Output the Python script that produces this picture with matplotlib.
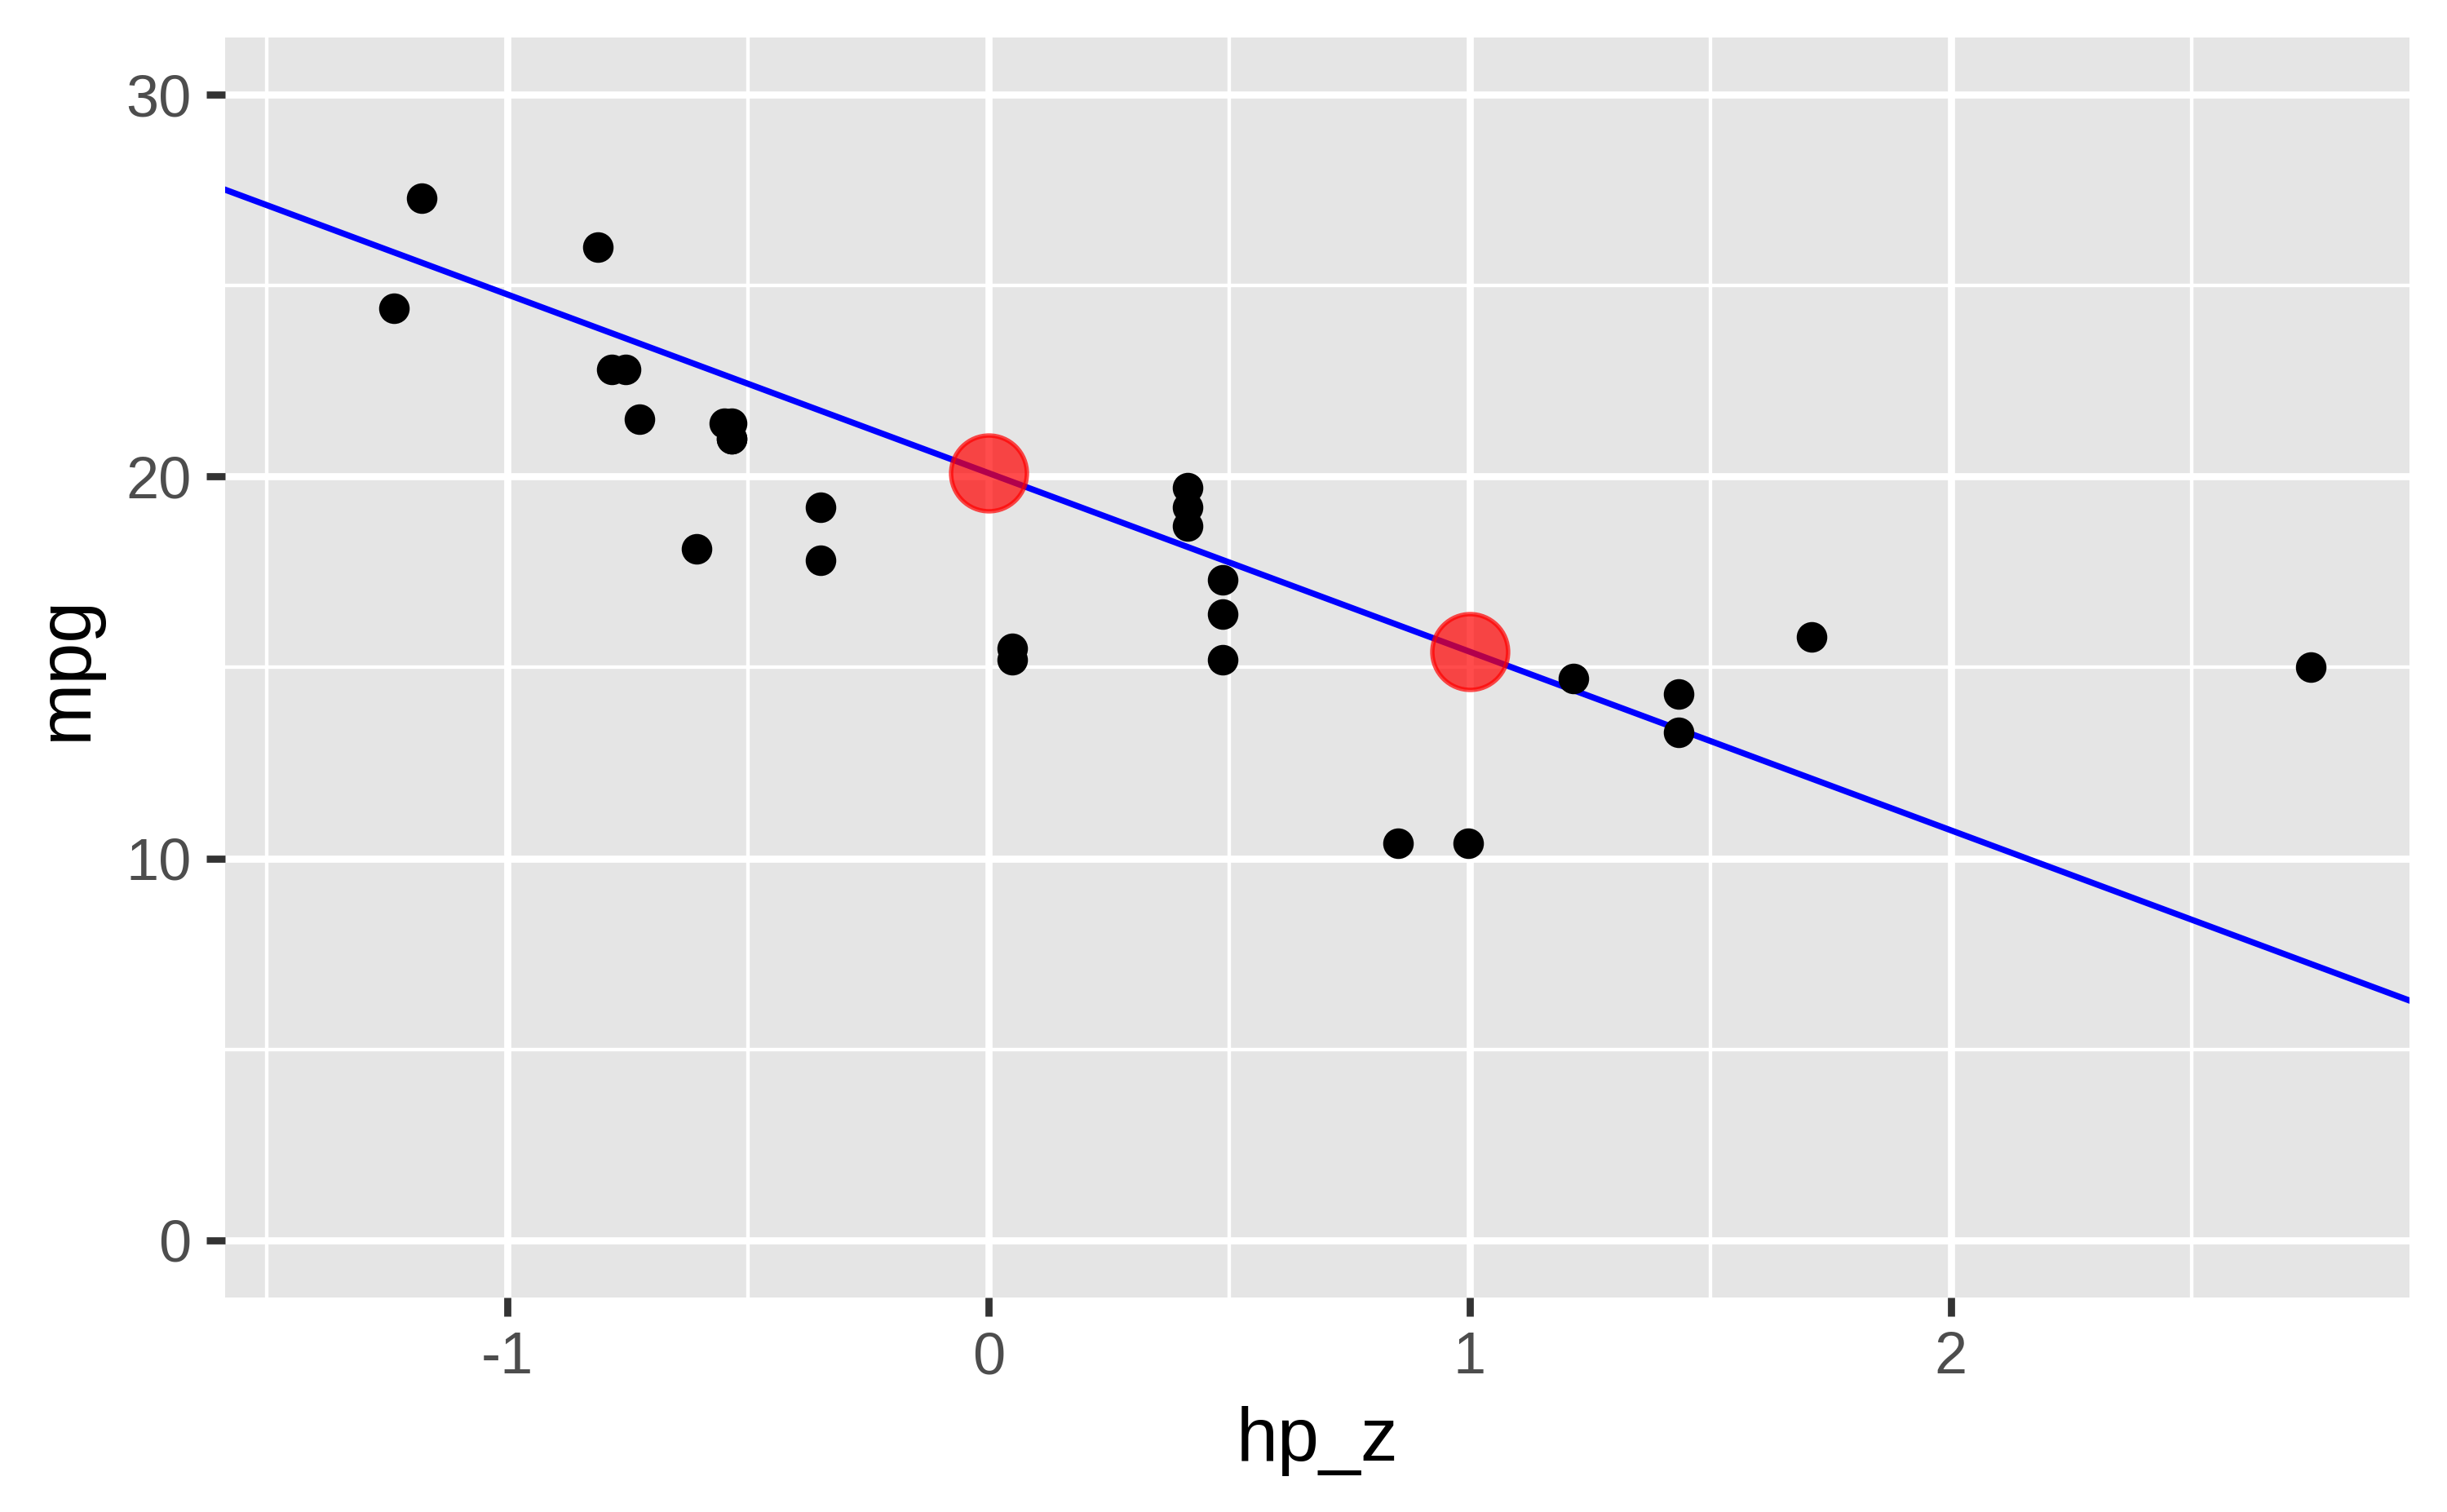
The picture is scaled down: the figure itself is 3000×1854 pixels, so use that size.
import numpy as np
import matplotlib
matplotlib.use("Agg")
import matplotlib.pyplot as plt
from matplotlib.ticker import MultipleLocator

plt.rcParams['font.family'] = ['Liberation Sans', 'DejaVu Sans']
plt.rcParams['axes.unicode_minus'] = False

# standardised horsepower and mpg (points with mpg above 30 fall outside the y limits)
hp_z = [-0.535, -0.535, -0.783, -0.535, 0.413, -0.608, 1.434, -1.236, -0.754,
        -0.350, -0.350, 0.486, 0.486, 0.486, 0.851, 0.997, 1.216, -0.725,
        0.049, 0.049, 1.434, 0.413, -1.178, -0.812, 1.711, 0.413, 2.747, -0.550]
mpg = [21.0, 21.0, 22.8, 21.4, 18.7, 18.1, 14.3, 24.4, 22.8,
       19.2, 17.8, 16.4, 17.3, 15.2, 10.4, 10.4, 14.7, 21.5,
       15.5, 15.2, 13.3, 19.2, 27.3, 26.0, 15.8, 19.7, 15.0, 21.4]

# fitted line mpg ~ hp_z
intercept = 20.09
slope = -4.678

# highlighted predictions at hp_z = 0 and 1
pred_x = [0, 1]
pred_y = [20.09, 15.41]

x_limits = [-1.587, 2.953]
y_limits = [-1.5, 31.5]
x_ticks = [-1, 0, 1, 2]
y_ticks = [0, 10, 20, 30]

fig = plt.figure(figsize=(10, 6.18), dpi=300)
ax = fig.add_axes([0.092, 0.1419, 0.8927, 0.8333])
ax.set_facecolor('#E5E5E5')

ax.set_xlim(x_limits)
ax.set_ylim(y_limits)
ax.set_xticks(x_ticks)
ax.set_yticks(y_ticks)
ax.xaxis.set_minor_locator(MultipleLocator(0.5))
ax.yaxis.set_minor_locator(MultipleLocator(5))

ax.grid(which='major', color='white', linewidth=2.1, zorder=0)
ax.grid(which='minor', color='white', linewidth=1.05, zorder=0)
ax.set_axisbelow(True)

for s in ax.spines.values():
    s.set_visible(False)

ax.tick_params(which='major', length=5.5, width=2.1, color='#333333',
               labelsize=17.3, labelcolor='#4D4D4D', pad=4.4)
ax.tick_params(which='minor', length=0)

ax.axline((0, intercept), slope=slope, color='blue', linewidth=1.8, zorder=2)
ax.plot(hp_z, mpg, 'o', color='black', markersize=8.6, markeredgewidth=0.4,
        zorder=3, linestyle='none')
ax.plot(pred_x, pred_y, 'o', color='red', alpha=0.7, markersize=22.3,
        markeredgewidth=1.3, zorder=4, linestyle='none')

ax.set_xlabel('hp_z', fontsize=22, color='black', labelpad=6)
ax.set_ylabel('mpg', fontsize=22, color='black', labelpad=7)

fig.savefig('out.png', dpi=300, facecolor='white')
